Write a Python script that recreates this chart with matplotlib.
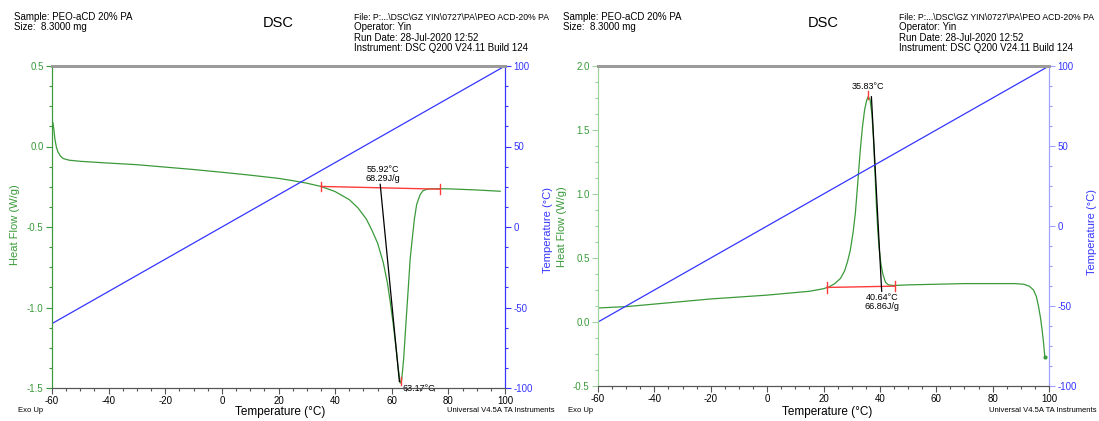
import matplotlib
matplotlib.use('Agg')
import matplotlib.pyplot as plt
from matplotlib.ticker import MultipleLocator, FormatStrFormatter

plt.rcParams['font.family'] = ['Liberation Sans', 'DejaVu Sans']
plt.rcParams['axes.unicode_minus'] = False

# Header / footer texts (same for both panels)
sample_lines = ['Sample: PEO-aCD 20% PA', 'Size:  8.3000 mg']
file_lines = ['File: P:...\\DSC\\GZ YIN\\0727\\PA\\PEO ACD-20% PA',
              'Operator: Yin',
              'Run Date: 28-Jul-2020 12:52',
              'Instrument: DSC Q200 V24.11 Build 124']

# Left panel: heating scan, melting endotherm
heat_temp = [-60.0, -59.7, -59.3, -59.0, -58.5, -58.0, -57.0, -56.0, -54.0, -50.0,
             -40.0, -30.0, -20.0, -10.0, 0.0, 10.0, 20.0, 25.0, 30.0, 35.0,
             40.0, 45.0, 48.0, 51.0, 53.0, 55.0, 57.0, 58.5, 59.5, 60.5,
             61.5, 62.3, 63.0, 63.5, 64.2, 65.0, 65.8, 66.5, 67.2, 68.0,
             68.8, 70.0, 71.0, 72.5, 75.0, 80.0, 90.0, 98.3]
heat_flow = [0.10, 0.15, 0.10, 0.05, 0.00, -0.03, -0.06, -0.075, -0.085, -0.092,
             -0.103, -0.113, -0.128, -0.143, -0.160, -0.178, -0.198, -0.212, -0.228, -0.248,
             -0.28, -0.33, -0.38, -0.45, -0.52, -0.60, -0.72, -0.85, -0.97, -1.10,
             -1.25, -1.38, -1.47, -1.45, -1.32, -1.10, -0.89, -0.70, -0.58, -0.45,
             -0.36, -0.30, -0.275, -0.265, -0.262, -0.263, -0.27, -0.278]
heat_ramp_x = [-60, 99.5]
heat_ramp_y = [-60, 99.5]
heat_base_x = [35.0, 77.0]
heat_base_y = [-0.248, -0.265]
heat_line_x = [55.92, 62.7]
heat_line_y = [-0.235, -1.46]
heat_peak = (63.17, -1.47)
heat_onset_text = '55.92°C\n68.29J/g'
heat_peak_text = '63.17°C'

# Right panel: cooling scan, crystallisation exotherm
cool_temp = [-59.5, -55.0, -50.0, -40.0, -30.0, -20.0, -10.0, 0.0, 10.0, 15.0,
             20.0, 22.0, 24.0, 26.0, 27.5, 28.5, 29.5, 30.5, 31.3, 32.2,
             33.0, 33.8, 34.6, 35.3, 35.83, 36.5, 37.2, 37.8, 38.3, 38.8,
             39.3, 39.8, 40.4, 41.1, 42.0, 43.0, 45.0, 50.0, 60.0, 70.0,
             80.0, 88.0, 91.0, 93.0, 94.5, 95.5, 96.3, 97.0, 97.6, 98.1, 98.5]
cool_flow = [0.11, 0.115, 0.12, 0.14, 0.16, 0.18, 0.195, 0.21, 0.23, 0.24,
             0.26, 0.275, 0.30, 0.34, 0.40, 0.47, 0.56, 0.70, 0.85, 1.10,
             1.33, 1.52, 1.66, 1.73, 1.76, 1.74, 1.62, 1.40, 1.15, 0.90,
             0.70, 0.56, 0.45, 0.37, 0.31, 0.29, 0.285, 0.29, 0.295, 0.30,
             0.30, 0.30, 0.295, 0.28, 0.25, 0.20, 0.12, 0.03, -0.07, -0.17, -0.27]
cool_ramp_x = [-60, 99.5]
cool_ramp_y = [-60, 99.5]
cool_base_x = [21.2, 45.3]
cool_base_y = [0.27, 0.28]
cool_line_x = [37.0, 40.64]
cool_line_y = [1.76, 0.24]
cool_peak = (35.83, 1.76)
cool_onset_text = '40.64°C\n66.86J/g'
cool_peak_text = '35.83°C'

GREEN = '#3a9a3a'
BLUE = '#3535ff'
RED = '#ff3b3b'

fig = plt.figure(figsize=(10.99, 4.21), dpi=100)
W, H = 1099.0, 421.0


def make_panel(x0, x1, ytop, ybot, hf_lim, hf_major, hf_minor, spine_green, spine_blue):
    ax = fig.add_axes([x0 / W, 1 - ybot / H, (x1 - x0) / W, (ybot - ytop) / H])
    ax2 = ax.twinx()
    ax.set_xlim(-60, 100)
    ax.set_ylim(*hf_lim)
    ax2.set_ylim(-100, 100)
    ax.xaxis.set_major_locator(MultipleLocator(20))
    ax.xaxis.set_minor_locator(MultipleLocator(5))
    ax.yaxis.set_major_locator(MultipleLocator(hf_major))
    ax.yaxis.set_minor_locator(MultipleLocator(hf_minor))
    ax2.yaxis.set_major_locator(MultipleLocator(50))
    ax2.yaxis.set_minor_locator(MultipleLocator(12.5))
    ax.yaxis.set_major_formatter(FormatStrFormatter('%.1f'))

    for a in (ax, ax2):
        a.spines['top'].set_color('#9a9a9a')
        a.spines['top'].set_linewidth(2)
        a.spines['bottom'].set_color('#555555')
        a.spines['left'].set_color(spine_green)
        a.spines['right'].set_color(spine_blue)
        a.patch.set_visible(False)
    ax.tick_params(axis='x', which='both', direction='out', colors='#555555',
                   labelcolor='black', labelsize=7, width=0.8, pad=2)
    ax.tick_params(axis='x', which='major', length=4)
    ax.tick_params(axis='x', which='minor', length=2.5)
    ax.tick_params(axis='y', which='both', direction='out', colors=spine_green,
                   labelcolor=GREEN, labelsize=7, width=0.8, pad=2)
    ax.tick_params(axis='y', which='major', length=4)
    ax.tick_params(axis='y', which='minor', length=2.5)
    ax2.tick_params(axis='y', which='both', direction='out', colors=spine_blue,
                    labelcolor=BLUE, labelsize=7, width=0.8, pad=2)
    ax2.tick_params(axis='y', which='major', length=4)
    ax2.tick_params(axis='y', which='minor', length=2.5)
    return ax, ax2


def red_tick(ax, x, y, d):
    ax.plot([x, x], [y - d, y + d], color=RED, lw=1, zorder=4)


def header(xl, xc, xr, xfoot_l, xfoot_c, xfoot_r, ylab_l, ylab_r):
    fig.text(xl / W, 1 - 17 / H, sample_lines[0], fontsize=7, va='center')
    fig.text(xl / W, 1 - 27 / H, sample_lines[1], fontsize=7, va='center')
    fig.text(xc / W, 1 - 23 / H, 'DSC', fontsize=10.5, ha='center', va='center')
    for i, line in enumerate(file_lines):
        # the long file path is set a little tighter so it fits its column
        fig.text(xr / W, 1 - (17 + 10.4 * i) / H, line,
                 fontsize=6.2 if i == 0 else 7, va='center')
    fig.text(xfoot_l / W, 1 - 411 / H, 'Exo Up', fontsize=5.5, va='center')
    fig.text(xfoot_c / W, 1 - 412 / H, 'Temperature (°C)', fontsize=8.5,
             ha='center', va='center')
    fig.text(xfoot_r / W, 1 - 410 / H, 'Universal V4.5A TA Instruments',
             fontsize=5.5, ha='right', va='center')
    fig.text(ylab_l[0] / W, 1 - ylab_l[1] / H, 'Heat Flow (W/g)', fontsize=8,
             color=GREEN, rotation=90, ha='center', va='center')
    fig.text(ylab_r[0] / W, 1 - ylab_r[1] / H, 'Temperature (°C)', fontsize=8,
             color=BLUE, rotation=90, ha='center', va='center')


# ---- left panel ----
axL, axL2 = make_panel(52, 505, 66, 388, (-1.5, 0.5), 0.5, 0.125, GREEN, BLUE)
axL2.plot(heat_ramp_x, heat_ramp_y, color=BLUE, lw=0.9)
axL.plot(heat_temp, heat_flow, color=GREEN, lw=0.9, zorder=3)
axL.plot(heat_base_x, heat_base_y, color=RED, lw=1, zorder=4)
red_tick(axL, heat_base_x[0], heat_base_y[0], 0.03)
red_tick(axL, heat_base_x[1], heat_base_y[1], 0.03)
red_tick(axL, heat_peak[0], heat_peak[1] + 0.015, 0.025)
axL.plot(heat_line_x, heat_line_y, color='black', lw=0.9, zorder=5)
axL.annotate(heat_onset_text, (heat_line_x[0], heat_line_y[0]), xytext=(2, 1),
             textcoords='offset points', ha='center', va='bottom', fontsize=6.5,
             linespacing=1.0)
axL.annotate(heat_peak_text, heat_peak, xytext=(1.5, -3.5), textcoords='offset points',
             ha='left', va='center', fontsize=6.5, annotation_clip=False)
header(14, 278.5, 354, 18, 280, 555, (15, 225), (548, 230))

# ---- right panel ----
axR, axR2 = make_panel(598, 1049, 66, 386, (-0.5, 2.0), 0.5, 0.125, '#9fd49f', '#a0a0ff')
axR2.plot(cool_ramp_x, cool_ramp_y, color=BLUE, lw=0.9)
axR.plot(cool_temp, cool_flow, color=GREEN, lw=0.9, zorder=3)
axR.plot(cool_temp[-1:], cool_flow[-1:], 'o', color=GREEN, ms=2)
axR.plot(cool_base_x, cool_base_y, color=RED, lw=1, zorder=4)
red_tick(axR, cool_base_x[0], cool_base_y[0], 0.04)
red_tick(axR, cool_base_x[1], cool_base_y[1], 0.04)
red_tick(axR, cool_peak[0], cool_peak[1] + 0.015, 0.03)
axR.plot(cool_line_x, cool_line_y, color='black', lw=0.9, zorder=5)
axR.annotate(cool_peak_text, cool_peak, xytext=(0, 4), textcoords='offset points',
             ha='center', va='bottom', fontsize=6.5)
axR.annotate(cool_onset_text, (cool_line_x[1], cool_line_y[1]), xytext=(0, -1),
             textcoords='offset points', ha='center', va='top', fontsize=6.5,
             linespacing=1.0)
header(563, 823.5, 899, 568, 827, 1097, (562, 227), (1092, 232))

fig.savefig('out.png', dpi=100)
